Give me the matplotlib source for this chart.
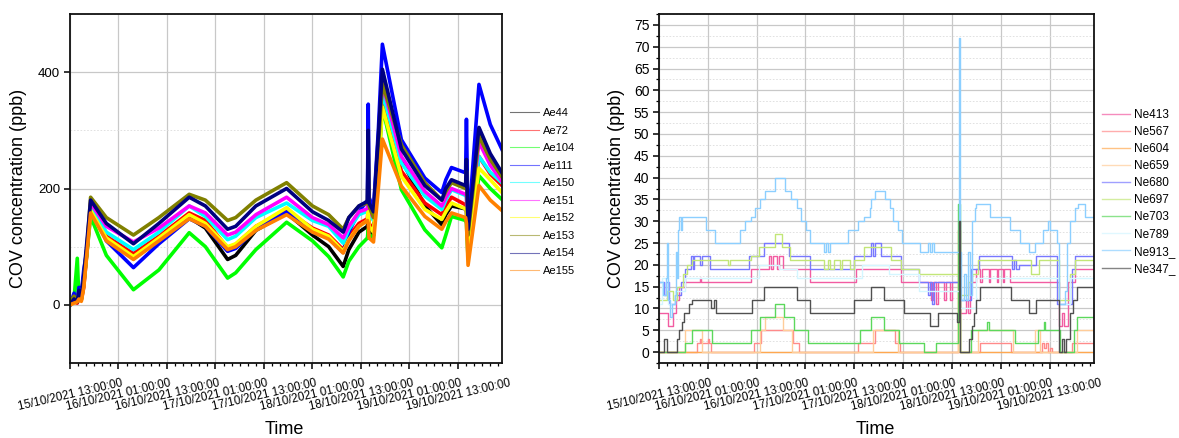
import matplotlib
matplotlib.use('Agg')
import matplotlib.pyplot as plt
from matplotlib.ticker import MultipleLocator

plt.rcParams['font.family'] = ['Liberation Sans', 'DejaVu Sans']

# ---------------- shared x axis (hours since 15/10/2021 13:00) ----------------
tick_hours = [0, 12, 24, 36, 48, 60, 72, 84, 96]
tick_labels = ["15/10/2021 13:00:00", "16/10/2021 01:00:00", "16/10/2021 13:00:00",
               "17/10/2021 01:00:00", "17/10/2021 13:00:00", "18/10/2021 01:00:00",
               "18/10/2021 13:00:00", "19/10/2021 01:00:00", "19/10/2021 13:00:00"]

# ---------------- left panel: Ae sensors ----------------
hours_a = [0, 1.0, 1.8, 2.2, 2.8, 3.4, 4.2, 5.1, 9.0, 15.7, 22.0, 29.5, 33.5, 39.0, 41.0, 46.0,
           53.6, 60.0, 64.0, 67.6, 69.0, 71.5, 73.6, 73.8, 74.0, 75.1, 76.3, 77.3, 82.0, 87.8,
           92.0, 93.0, 94.4, 97.9, 98.1, 98.5, 101.2, 104.0, 106.9]
ae44 = [0, 8, 4, 15, 10, 35, 95, 165, 115, 80, 110, 150, 132, 78, 85, 128, 158, 120, 100, 66, 95, 125,
        135, 150, 130, 120, 270, 390, 250, 170, 138, 155, 170, 165, 160, 100, 300, 250, 225]
ae72 = [0, 5, 3, 12, 8, 30, 90, 170, 118, 88, 118, 158, 145, 98, 104, 135, 162, 132, 120, 95, 118, 140,
        148, 170, 140, 130, 240, 355, 230, 175, 155, 170, 185, 172, 170, 100, 255, 225, 205]
ae104 = [0, 10, 80, 10, 20, 40, 90, 152, 85, 26, 60, 124, 100, 46, 55, 95, 142, 110, 83, 48, 75, 100,
         115, 130, 115, 120, 230, 340, 198, 129, 98, 120, 152, 145, 140, 80, 222, 200, 181]
ae111 = [0, 20, 5, 30, 20, 60, 95, 170, 110, 64, 105, 148, 135, 92, 97, 130, 160, 125, 115, 90, 125, 160,
         180, 345, 185, 165, 300, 448, 284, 218, 193, 215, 236, 227, 319, 129, 379, 310, 267]
ae150 = [0, 5, 10, 20, 10, 45, 100, 170, 125, 95, 125, 170, 152, 112, 118, 150, 175, 145, 135, 106, 130,
         155, 161, 180, 155, 145, 255, 365, 244, 187, 164, 180, 198, 188, 185, 110, 255, 228, 210]
ae151 = [0, 5, 8, 18, 12, 40, 100, 175, 135, 108, 132, 170, 158, 120, 125, 155, 185, 150, 138, 115, 135,
         160, 165, 200, 160, 150, 270, 380, 255, 195, 170, 185, 200, 190, 190, 115, 280, 240, 212]
ae152 = [0, 4, 6, 14, 8, 35, 95, 162, 115, 83, 115, 155, 140, 100, 105, 135, 167, 130, 118, 92, 112, 135,
         145, 160, 135, 125, 230, 340, 221, 164, 147, 160, 175, 165, 160, 95, 235, 215, 193]
ae153 = [5, 15, 5, 20, 10, 40, 100, 185, 150, 120, 150, 190, 180, 145, 150, 180, 210, 170, 155, 130, 150,
         170, 175, 260, 170, 150, 270, 380, 275, 210, 180, 195, 210, 200, 230, 120, 290, 250, 220]
ae154 = [0, 10, 5, 25, 15, 50, 110, 180, 140, 105, 140, 185, 170, 130, 135, 170, 200, 160, 145, 125, 150,
         170, 178, 300, 175, 160, 290, 405, 268, 205, 180, 200, 215, 205, 250, 130, 305, 260, 227]
ae155 = [0, 3, 5, 10, 6, 30, 90, 158, 110, 78, 110, 148, 135, 95, 100, 128, 155, 125, 113, 89, 110, 135,
         145, 140, 115, 108, 200, 285, 204, 152, 130, 143, 158, 150, 140, 68, 205, 180, 162]
ae_names = ["Ae44", "Ae72", "Ae104", "Ae111", "Ae150", "Ae151", "Ae152", "Ae153", "Ae154", "Ae155"]
ae_colors = ["#000000", "#ff0000", "#00ff00", "#0000ff", "#00ffff", "#ff00ff", "#ffff00",
             "#808000", "#000080", "#ff8000"]

# ---------------- right panel: Ne sensors (step series) ----------------
ne413_h = [0, 2.2, 3.5, 4.2, 5.0, 6.5, 10.0, 10.3, 22.7, 27.0, 27.5, 28.0, 29.0, 29.5, 30.5, 37.0, 48.5,
           59.5, 66.8, 67.3, 68.0, 68.5, 70.0, 70.5, 71.5, 72.0, 74.0, 75.5, 76.0, 76.5, 78.0, 79.0, 79.3,
           81.0, 81.3, 83.0, 83.3, 84.5, 84.8, 86.2, 98.2, 99.0, 99.5, 100.5, 102.3, 106.9]
ne413_v = [9, 6, 9, 12, 15, 16, 17, 16, 19, 22, 19, 22, 19, 22, 19, 16, 19, 16, 12, 16, 11, 16, 12, 16,
           12, 16, 9, 12, 9, 16, 19, 16, 19, 16, 19, 16, 19, 16, 19, 16, 6, 9, 6, 16, 19, 19]
ne567_h = [0, 9.4, 10.0, 10.3, 12.0, 12.3, 12.8, 23.3, 25.0, 33.0, 34.3, 48.9, 53.0, 58.0, 59.2, 79.0,
           86.6, 94.2, 94.6, 95.0, 95.5, 96.0, 96.5, 101.5, 106.9]
ne567_v = [0, 2, 3, 2, 3, 2, 0, 2, 5, 2, 0, 2, 5, 2, 0, 2, 0, 2, 1, 2, 0, 1, 0, 2, 2]
ne604_h = [0, 73.5, 73.9, 106.9]
ne604_v = [0, 28, 0, 0]
ne659_h = [0, 6.5, 10.5, 24.8, 26.0, 30.5, 32.6, 52.5, 58.7, 73.6, 73.9, 78.5, 87.0, 92.4, 93.6, 102.6, 106.9]
ne659_v = [0, 5, 0, 5, 8, 5, 0, 5, 0, 20, 0, 5, 0, 5, 0, 5, 5]
ne680_h = [0, 1.2, 1.8, 2.5, 4.0, 5.5, 6.5, 7.8, 8.3, 8.6, 10.0, 10.5, 12.5, 22.0, 25.8, 32.0, 37.0, 48.0,
           52.0, 52.5, 53.0, 54.5, 59.5, 64.0, 66.0, 66.5, 67.0, 67.5, 73.7, 74.3, 76.6, 78.7, 86.8, 87.3,
           87.8, 88.5, 92.7, 97.9, 101.5, 102.3, 106.9]
ne680_v = [16, 13, 16, 11, 13, 16, 19, 22, 19, 22, 20, 22, 19, 22, 25, 22, 19, 22, 25, 22, 25, 22, 19, 16,
           13, 16, 11, 16, 12, 12, 19, 22, 19, 21, 19, 20, 22, 11, 19, 22, 22]
ne697_h = [0, 2.0, 3.5, 4.5, 5.8, 7.0, 8.0, 17.0, 17.5, 22.5, 24.5, 28.5, 30.3, 32.3, 40.5, 41.5, 42.0,
           43.0, 44.5, 45.0, 47.0, 48.0, 50.5, 57.0, 59.5, 64.0, 73.7, 74.0, 76.0, 77.0, 78.5, 91.3, 93.3,
           98.2, 101.0, 102.3, 106.9]
ne697_v = [12, 14, 12, 15, 18, 20, 21, 20, 21, 22, 24, 27, 24, 21, 19, 21, 19, 21, 19, 21, 19, 21, 24, 21,
           19, 18, 30, 13, 16, 18, 21, 18, 21, 12, 18, 21, 21]
ne703_h = [0, 6.5, 8.2, 13.1, 22.5, 24.9, 28.6, 30.6, 33.1, 36.6, 49.3, 52.0, 55.4, 58.9, 65.2, 68.1,
           73.5, 73.9, 76.6, 80.7, 81.0, 87.4, 93.2, 94.5, 94.8, 98.5, 102.0, 102.8, 106.9]
ne703_v = [0, 2, 5, 2, 5, 8, 11, 8, 5, 2, 5, 8, 5, 2, 0, 2, 34, 0, 5, 7, 5, 2, 5, 7, 5, 0, 5, 8, 8]
ne789_h = [0, 0.8, 2.2, 4.0, 6.5, 24.5, 29.5, 34.0, 50.0, 56.6, 64.0, 74.0, 77.8, 98.2, 101.0, 106.9]
ne789_v = [11, 17, 11, 14, 17, 20, 19, 17, 20, 18, 14, 10, 17, 11, 17, 17]
ne913_h = [0, 1.0, 1.6, 2.0, 2.3, 2.6, 3.2, 3.9, 4.2, 4.5, 4.7, 5.0, 5.3, 5.6, 11.6, 13.7, 19.8, 21.1,
           22.5, 23.5, 24.8, 26.1, 28.4, 31.0, 32.5, 33.8, 35.0, 36.1, 37.2, 40.5, 41.0, 41.5, 42.0, 46.5,
           48.9, 50.5, 51.8, 52.2, 53.0, 55.5, 56.7, 57.5, 58.8, 59.6, 64.1, 66.0, 66.5, 67.0, 67.5, 73.7,
           73.9, 74.3, 75.0, 75.5, 76.0, 76.4, 76.8, 77.6, 78.0, 81.3, 86.2, 88.7, 90.9, 92.4, 94.3, 95.5,
           96.0, 97.7, 98.2, 99.8, 100.2, 101.0, 102.2, 103.0, 104.7, 106.9]
ne913_v = [16, 13, 17, 25, 12, 8, 11, 13, 23, 17, 28, 31, 28, 31, 28, 25, 28, 30, 31, 33, 35, 37, 40, 37,
           35, 33, 30, 28, 25, 23, 25, 23, 25, 28, 30, 31, 33, 35, 37, 35, 33, 30, 28, 25, 23, 25, 23, 25,
           23, 72, 23, 12, 18, 12, 23, 13, 30, 33, 34, 31, 28, 25, 23, 25, 28, 30, 28, 25, 11, 14, 25, 30,
           33, 34, 31, 31]
ne347_h = [0, 1.2, 2.0, 4.5, 4.9, 5.7, 6.1, 7.4, 8.2, 12.7, 13.5, 14.0, 22.9, 25.7, 33.9, 37.2, 48.0,
           52.0, 55.4, 60.3, 66.7, 68.5, 73.2, 73.7, 73.9, 76.3, 77.0, 77.5, 78.0, 79.0, 86.4, 90.9, 92.7,
           98.3, 99.0, 99.5, 100.0, 101.0, 101.8, 102.8, 106.9]
ne347_v = [0, 3, 0, 3, 5, 7, 9, 11, 12, 10, 12, 9, 12, 15, 12, 9, 12, 15, 12, 9, 6, 9, 7, 30, 0, 3, 6, 9,
           12, 15, 12, 9, 12, 0, 3, 0, 3, 9, 12, 15, 15]
ne_names = ["Ne413", "Ne567", "Ne604", "Ne659", "Ne680", "Ne697", "Ne703", "Ne789", "Ne913_", "Ne347_"]
ne_colors = ["#f25ca2", "#ff8a8a", "#ffa850", "#ffcc99", "#7878ff", "#c2e678", "#5cd85c",
             "#d4f6ff", "#8ccfff", "#505050"]

W, H = 1179, 438
fig = plt.figure(figsize=(W / 100, H / 100), dpi=100)


def px_axes(x0, y0, x1, y1):
    return fig.add_axes([x0 / W, 1 - y1 / H, (x1 - x0) / W, (y1 - y0) / H])


def style_axes(ax, xmax):
    ax.set_xlim(0, xmax)
    ax.set_xticks(tick_hours)
    ax.set_xticklabels(tick_labels, rotation=13, ha='center', fontsize=8.4)
    ax.xaxis.set_minor_locator(MultipleLocator(2))
    ax.tick_params(axis='both', which='major', direction='out', length=4, width=1.1, pad=3)
    ax.tick_params(axis='both', which='minor', direction='out', length=2.2, width=0.9)
    ax.tick_params(axis='x', which='major', pad=6)
    for s in ax.spines.values():
        s.set_linewidth(1.3)
        s.set_color('#111111')
    ax.grid(True, which='major', color='#c8c8c8', linewidth=0.9)
    ax.grid(True, which='minor', axis='y', color='#dcdcdc', linewidth=0.6, linestyle=(0, (2, 2)))
    ax.set_axisbelow(True)


# ---- left
axL = px_axes(70, 14, 502, 363)
for vals, name, col in zip([ae44, ae72, ae104, ae111, ae150, ae151, ae152, ae153, ae154, ae155],
                           ae_names, ae_colors):
    axL.plot(hours_a, vals, color=col, linewidth=2.6, label=name)
axL.set_ylim(-100, 500)
axL.set_yticks([0, 200, 400])
axL.yaxis.set_minor_locator(MultipleLocator(100))
style_axes(axL, 106.9)
axL.tick_params(axis='y', which='minor', length=0)
axL.tick_params(axis='y', labelsize=9.5)
axL.set_ylabel("COV concentration (ppb)", fontsize=13)
axL.yaxis.set_label_coords(-0.0995, 0.5)
axL.set_xlabel("Time", fontsize=13)
axL.xaxis.set_label_coords(0.495, -0.166)
hL, lL = axL.get_legend_handles_labels()
legL = fig.legend(hL, lL, loc='upper left', bbox_to_anchor=(510 / W, 1 - 108 / H), frameon=False,
                  fontsize=8, handlelength=2.6, handletextpad=0.4, labelspacing=0.68,
                  borderpad=0, borderaxespad=0)
for ln in legL.get_lines():
    ln.set_linewidth(0.8)
    ln.set_alpha(0.55)

# ---- right
axR = px_axes(659, 14, 1094, 363)
for hh, vv, name, col in zip([ne413_h, ne567_h, ne604_h, ne659_h, ne680_h, ne697_h, ne703_h, ne789_h,
                              ne913_h, ne347_h],
                             [ne413_v, ne567_v, ne604_v, ne659_v, ne680_v, ne697_v, ne703_v, ne789_v,
                              ne913_v, ne347_v], ne_names, ne_colors):
    axR.step(hh, vv, where='post', color=col, linewidth=1.0, label=name)
axR.set_ylim(-2.5, 77.5)
axR.yaxis.set_major_locator(MultipleLocator(5))
axR.yaxis.set_minor_locator(MultipleLocator(2.5))
style_axes(axR, 106.9)
axR.tick_params(axis='y', labelsize=10)
axR.set_ylabel("COV concentration (ppb)", fontsize=13)
axR.yaxis.set_label_coords(-0.078, 0.5)
axR.set_xlabel("Time", fontsize=13)
axR.xaxis.set_label_coords(0.497, -0.165)
hR, lR = axR.get_legend_handles_labels()
legR = fig.legend(hR, lR, loc='upper left', bbox_to_anchor=(1102 / W, 1 - 109 / H), frameon=False,
                  fontsize=8.5, handlelength=2.4, handletextpad=0.3, labelspacing=0.43,
                  borderpad=0, borderaxespad=0)
for ln in legR.get_lines():
    ln.set_linewidth(1.0)
    ln.set_alpha(0.7)

fig.savefig("out.png", dpi=100)
